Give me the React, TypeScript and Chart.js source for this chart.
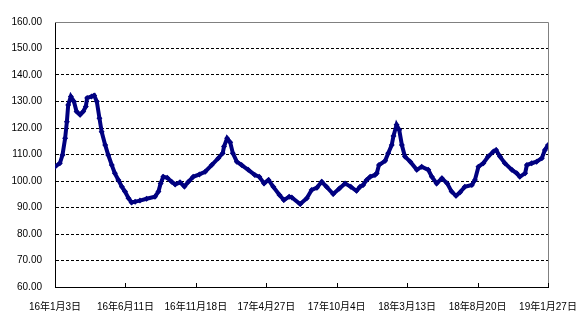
import React, { useEffect, useRef } from "react";
import { Chart, registerables } from "chart.js";

Chart.register(...registerables);

// day offsets from 2016-01-03
const dayOffsets = [
  0, 11, 17, 23, 27, 30, 36, 43, 49, 57, 64, 70, 73, 83, 89, 95, 101, 106, 114, 121,
  129, 136, 144, 152, 159, 167, 174, 182, 193, 208, 227, 235, 240, 246, 255, 265, 273, 284, 294, 303,
  314, 328, 341, 356, 371, 381, 384, 391, 398, 404, 413, 424, 439, 454, 464, 475, 485, 496, 510, 520,
  532, 538, 557, 572, 583, 595, 606, 617, 632, 646, 659, 672, 685, 693, 700, 708, 716, 727, 731, 736,
  750, 757, 765, 769, 776, 782, 788, 795, 807, 822, 833, 848, 856, 867, 879, 891, 901, 911, 920, 931,
  947, 954, 962, 973, 984, 996, 1002, 1011, 1022, 1038, 1049, 1056, 1068, 1072, 1083, 1094, 1106, 1113, 1120,
];

const indexValues = [
  105.4, 106.7, 109.8, 116.1, 122.4, 128.7, 131.9, 130.0, 126.2, 125.0, 126.2, 128.1, 131.3, 131.9, 132.3, 130.0, 123.7, 118.6, 113.6, 109.8,
  106.0, 102.9, 100.4, 97.8, 96.0, 93.5, 91.9, 92.2, 92.6, 93.3, 94.1, 96.0, 99.1, 101.6, 101.2, 99.7, 98.7, 99.5, 97.9, 99.7,
  101.6, 102.5, 103.5, 106.0, 108.6, 110.5, 113.0, 116.1, 114.6, 110.5, 107.3, 106.0, 104.2, 102.3, 101.6, 99.1, 100.4, 97.8, 94.7, 92.8,
  94.1, 93.8, 91.3, 93.5, 96.6, 97.5, 99.7, 97.8, 95.1, 97.2, 99.1, 97.8, 96.3, 97.8, 98.5, 100.4, 101.6, 102.3, 102.9, 106.0,
  107.6, 110.5, 113.6, 117.0, 121.2, 119.3, 113.6, 109.2, 107.3, 104.2, 105.4, 104.2, 101.6, 99.1, 101.0, 99.1, 96.0, 94.4, 95.7, 97.8,
  98.5, 100.4, 105.4, 106.7, 109.2, 111.1, 111.7, 109.2, 106.7, 104.2, 102.9, 101.6, 102.9, 106.0, 106.7, 107.3, 108.6, 111.7, 113.6,
];

const tickLabels = [
  "16年1月3日",
  "16年6月11日",
  "16年11月18日",
  "17年4月27日",
  "17年10月4日",
  "18年3月13日",
  "18年8月20日",
  "19年1月27日",
];

const LABEL_STEP = 160;

const frame = {
  id: "frame",
  afterDraw(chart: any) {
    const { ctx, chartArea } = chart;
    const xs = chart.scales.x;
    ctx.save();
    ctx.strokeStyle = "#808080";
    ctx.lineWidth = 1;
    ctx.setLineDash([]);
    ctx.beginPath();
    ctx.moveTo(chartArea.left, chartArea.top + 0.5);
    ctx.lineTo(chartArea.right + 0.5, chartArea.top + 0.5);
    ctx.lineTo(chartArea.right + 0.5, chartArea.bottom);
    ctx.stroke();
    ctx.strokeStyle = "#000000";
    ctx.beginPath();
    for (let i = 1; i < tickLabels.length; i++) {
      const px = Math.round(xs.getPixelForValue(i * LABEL_STEP)) + 0.5;
      ctx.moveTo(px, chartArea.bottom);
      ctx.lineTo(px, chartArea.bottom - 4);
    }
    ctx.stroke();
    ctx.restore();
  },
};

export default function App() {
  const ref = useRef<HTMLCanvasElement | null>(null);
  useEffect(() => {
    if (!ref.current) return;
    const data = dayOffsets.map((d, i) => ({ x: d, y: indexValues[i] }));
    const chart = new Chart(ref.current, {
      type: "line",
      data: {
        datasets: [
          {
            data,
            borderColor: "#000080",
            backgroundColor: "#000080",
            borderWidth: 4,
            pointStyle: "rectRot",
            pointRadius: 3,
            pointBorderWidth: 0,
            pointBackgroundColor: "#000080",
            tension: 0,
          },
        ],
      },
      options: {
        animation: false,
        responsive: false,
        maintainAspectRatio: false,
        layout: { padding: { left: 0, right: 40, top: 22, bottom: 0 } },
        plugins: { legend: { display: false }, tooltip: { enabled: false } },
        scales: {
          x: {
            type: "linear",
            min: 0,
            max: (tickLabels.length - 1) * LABEL_STEP,
            afterFit: (s: any) => {
              s.height = 41;
            },
            afterBuildTicks: (s: any) => {
              s.ticks = tickLabels.map((_, i) => ({ value: i * LABEL_STEP }));
            },
            ticks: {
              autoSkip: false,
              maxRotation: 0,
              padding: 6,
              color: "#000000",
              font: { family: "'Liberation Sans', 'Noto Sans CJK JP', sans-serif", size: 10 },
              callback: (v: any) => tickLabels[Math.round(Number(v) / LABEL_STEP)] ?? "",
            },
            grid: { display: false },
            border: { display: true, color: "#000000", width: 1 },
          },
          y: {
            min: 60,
            max: 160,
            afterFit: (s: any) => {
              s.width = 55;
            },
            ticks: {
              stepSize: 10,
              padding: 13,
              color: "#000000",
              font: { family: "'Liberation Sans', sans-serif", size: 10 },
              callback: (v: any) => Number(v).toFixed(2),
            },
            grid: {
              drawTicks: false,
              color: (c: any) => (c.tick && (c.tick.value === 160 || c.tick.value === 60) ? "rgba(0,0,0,0)" : "#000000"),
              lineWidth: 1,
            },
            border: { display: true, color: "#000000", width: 1, dash: [3, 2] },
          },
        },
      },
      plugins: [frame],
    });
    return () => chart.destroy();
  }, []);
  return (
    <div style={{ position: "fixed", left: 0, top: 0, width: 588, height: 328, background: "#fff" }}>
      <canvas ref={ref} width={588} height={328} style={{ width: 588, height: 328 }} />
    </div>
  );
}
